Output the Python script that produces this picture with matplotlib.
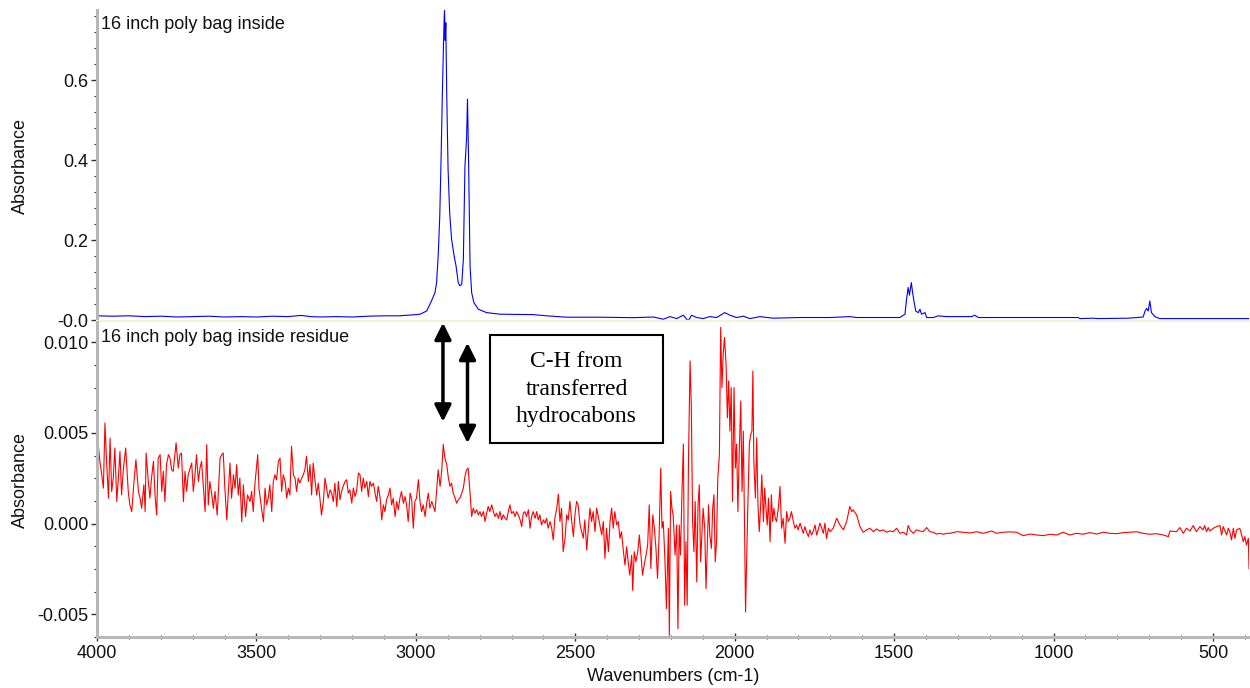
import numpy as np
import matplotlib
matplotlib.use("Agg")
import matplotlib.pyplot as plt
from matplotlib.ticker import MultipleLocator, FixedLocator, FixedFormatter
from matplotlib.patches import Rectangle

plt.rcParams['font.family'] = ['Liberation Sans', 'DejaVu Sans']

# ---------------- data ----------------
top_title = "16 inch poly bag inside"
bottom_title = "16 inch poly bag inside residue"
x_label = "Wavenumbers (cm-1)"
y_label = "Absorbance"
note_text = "C-H from\ntransferred\nhydrocabons"

top_yticks = [0.0, 0.2, 0.4, 0.6]
top_ytick_labels = ["-0.0", "0.2", "0.4", "0.6"]
bot_yticks = [-0.005, 0.0, 0.005, 0.010]
bot_ytick_labels = ["-0.005", "0.000", "0.005", "0.010"]
x_ticks = [4000, 3500, 3000, 2500, 2000, 1500, 1000, 500]

# blue spectrum (top panel)
blue_wn = [4000, 3950, 3900, 3850, 3800, 3750, 3700, 3650, 3600, 3550, 3500, 3450,
           3400, 3360, 3330, 3300, 3250, 3200, 3150, 3100, 3050, 3000, 2987, 2966,
           2951, 2940, 2935, 2930, 2925, 2921, 2917, 2913, 2911, 2910, 2908, 2906, 2903,
           2899, 2894, 2888, 2880, 2874, 2867, 2862, 2856, 2851, 2846, 2841, 2838,
           2835, 2830, 2825, 2818, 2804, 2778, 2736, 2632, 2590, 2527, 2423, 2318,
           2255, 2224, 2203, 2182, 2161, 2146, 2135, 2119, 2099, 2078, 2057, 2031,
           2015, 1994, 1973, 1952, 1921, 1879, 1795, 1733, 1701, 1639, 1618, 1482,
           1466, 1461, 1456, 1452, 1446, 1442, 1437, 1432, 1424, 1419, 1414, 1403,
           1398, 1377, 1362, 1336, 1257, 1247, 1236, 923, 917, 876, 860, 766,
           719, 713, 708, 703, 698, 693, 682, 667, 384]
blue_abs = [0.011, 0.010, 0.011, 0.009, 0.010, 0.008, 0.009, 0.010, 0.008, 0.009, 0.008, 0.010,
            0.009, 0.012, 0.009, 0.008, 0.009, 0.008, 0.010, 0.011, 0.011, 0.014, 0.015, 0.023,
            0.048, 0.069, 0.094, 0.160, 0.260, 0.400, 0.560, 0.700, 0.760, 0.775, 0.700, 0.744, 0.560,
            0.380, 0.270, 0.203, 0.161, 0.136, 0.094, 0.086, 0.090, 0.153, 0.386, 0.453, 0.553,
            0.419, 0.136, 0.069, 0.044, 0.0275, 0.019, 0.015, 0.014, 0.011, 0.0075, 0.0075, 0.0063,
            0.008, 0.0025, 0.009, 0.004, 0.0125, -0.002, 0.0125, 0.0067, 0.004, 0.009, 0.0067, 0.019,
            0.0125, 0.0067, 0.010, 0.004, 0.009, 0.005, 0.0067, 0.0067, 0.0067, 0.009, 0.0067, 0.0067,
            0.015, 0.0525, 0.082, 0.0625, 0.094, 0.069, 0.044, 0.0225, 0.019, 0.0275, 0.015, 0.019,
            0.0067, 0.0067, 0.0108, 0.009, 0.009, 0.0125, 0.0067, 0.0067, 0.004, 0.005, 0.004, 0.005,
            0.008, 0.023, 0.0295, 0.023, 0.048, 0.019, 0.009, 0.004, 0.004]

# red spectrum (bottom panel), absorbance in units of 1e-3
red_wn = [
    3996, 3991, 3985, 3980, 3975, 3970, 3964, 3959, 3954, 3949, 3944, 3938, 3933, 3928, 3923, 3917,
    3910, 3902, 3897, 3891, 3884, 3878, 3870, 3865, 3860, 3853, 3849, 3846, 3839, 3834, 3829, 3823,
    3818, 3813, 3808, 3802, 3797, 3792, 3787, 3782, 3776, 3771, 3766, 3761, 3752, 3745, 3740, 3735,
    3729, 3724, 3719, 3714, 3703, 3698, 3693, 3688, 3682, 3677, 3672, 3661, 3656, 3651, 3646, 3640,
    3635, 3630, 3623, 3614, 3609, 3604, 3599, 3593, 3588, 3583, 3578, 3572, 3567, 3562, 3557, 3552,
    3546, 3541, 3534, 3528, 3520, 3515, 3510, 3505, 3496, 3492, 3484, 3478, 3473, 3468, 3463, 3458,
    3452, 3447, 3442, 3437, 3431, 3426, 3421, 3416, 3410, 3405, 3400, 3395, 3390, 3384, 3379, 3374,
    3369, 3364, 3358, 3353, 3348, 3343, 3337, 3332, 3327, 3322, 3317, 3311, 3306, 3301, 3296, 3290,
    3285, 3280, 3275, 3269, 3264, 3259,
    3254, 3248, 3243, 3238, 3233, 3228, 3222, 3217, 3212, 3207, 3201, 3196, 3191, 3186, 3180, 3175,
    3170, 3165, 3160, 3154, 3149, 3144, 3139, 3133, 3128, 3123, 3118, 3112, 3107, 3102, 3097, 3092,
    3086, 3081, 3076, 3071, 3065, 3060, 3055, 3050, 3045, 3039, 3034, 3029, 3024, 3018, 3013, 3008,
    3003, 2998, 2992, 2987, 2982, 2977, 2971, 2966, 2961, 2956, 2950, 2945, 2940, 2935, 2930, 2924,
    2919, 2914, 2909, 2903, 2898, 2893, 2888, 2883, 2877, 2872, 2867, 2862, 2856, 2851, 2846, 2841,
    2836, 2830, 2825, 2820, 2815, 2809, 2804, 2799, 2794, 2788, 2783, 2778, 2773, 2768, 2762, 2757,
    2752, 2747, 2741, 2736, 2731, 2726, 2720, 2715, 2710, 2705, 2700, 2694, 2689, 2684, 2679, 2673,
    2668, 2663, 2658, 2653, 2647, 2642, 2637, 2632, 2626, 2621, 2616, 2611, 2606, 2600, 2595, 2590,
    2585, 2579, 2574, 2569, 2564, 2558, 2553, 2548, 2543, 2538, 2532, 2527, 2522, 2517, 2511, 2506,
    2501, 2496, 2491, 2485, 2480, 2475, 2470, 2464, 2459, 2454, 2449, 2444, 2438, 2433, 2428,
    2417, 2412, 2407, 2402, 2396, 2391, 2386, 2381, 2376, 2370, 2365, 2360, 2355, 2349, 2344, 2339,
    2334, 2329, 2323, 2320, 2315, 2310, 2304, 2299, 2294, 2289, 2284, 2278, 2273, 2268, 2263, 2257,
    2252, 2247, 2242, 2237, 2232, 2228, 2224, 2219, 2214, 2208, 2205, 2201, 2197, 2193, 2187, 2182,
    2178, 2174, 2170, 2165, 2161, 2157, 2153, 2149, 2145, 2140, 2136, 2132, 2128, 2124, 2119, 2115,
    2111, 2107, 2103, 2099, 2094, 2090, 2086, 2082, 2078, 2073, 2069, 2065, 2061, 2057, 2053, 2048,
    2044, 2040, 2036, 2032, 2027, 2023, 2019, 2015, 2011, 2007, 2002, 1998, 1994, 1990, 1986, 1981,
    1977, 1973, 1969, 1966, 1963, 1959, 1954, 1950, 1946, 1943, 1940, 1935, 1931, 1927, 1923, 1919,
    1915, 1910, 1906, 1902, 1898, 1894, 1889, 1885, 1881, 1877, 1873, 1869, 1863, 1858, 1853, 1848,
    1842, 1837, 1832, 1827, 1822, 1816, 1811, 1806, 1801, 1795, 1790, 1785, 1780, 1775, 1769, 1764,
    1759, 1754, 1748, 1743, 1738, 1733, 1727, 1722, 1717, 1712, 1706,
    1701, 1691, 1680, 1670, 1659, 1649, 1639, 1633, 1628, 1618, 1607, 1597, 1586, 1576, 1565, 1555,
    1545, 1534, 1524, 1513, 1503, 1492, 1482, 1471, 1461, 1456, 1450, 1440, 1430, 1419, 1409, 1398,
    1388, 1377, 1367, 1356, 1346, 1335,
    1325, 1304, 1283, 1262, 1241, 1220, 1194, 1179, 1158, 1137, 1116, 1095, 1074, 1053, 1032, 1011,
    990, 970, 949, 928, 907, 886, 865, 844, 823, 802, 781, 761, 740, 719, 698, 677,
    656, 640, 635, 614, 604, 593, 583, 572, 562, 552, 541, 531, 526, 520, 515, 510,
    499, 489, 478, 473, 468, 457, 452, 447, 442, 436, 431, 426, 416, 410, 405, 400,
    395, 389, 387]
red_abs_milli = [
    4.35, 3.43, 2.69, 1.95, 5.55, 3.43, 1.40, 4.72, 1.77, 2.51, 4.17, 1.21, 2.51, 3.98, 1.58, 3.06,
    4.17, 1.77, 1.03, 0.66, 2.32, 3.52, 1.77, 1.40, 0.84, 2.14, 0.66, 3.89, 2.32, 1.40, 2.51, 3.43,
    1.58, 0.47, 3.61, 3.80, 1.77, 2.88, 1.21, 3.25, 3.80, 3.61, 2.97, 2.88, 4.45, 3.06, 3.80, 3.89,
    1.21, 2.88, 1.77, 2.69, 3.34, 1.77, 2.60, 3.80, 2.32, 3.06, 3.43, 0.66, 4.35, 1.03, 2.32, 1.58,
    0.84, 1.77, 0.47, 3.61, 3.80, 3.89, 1.95, 0.20, 1.77, 3.34, 1.40, 2.69, 1.95, 3.25, 1.58, 2.51,
    0.10, 2.14, 0.38, 1.58, 1.21, 1.77, 0.66, 2.14, 3.80, 1.95, 0.84, 0.10, 1.95, 1.03, 1.40, 2.14,
    0.66, 2.32, 2.69, 2.41, 3.43, 3.61, 1.77, 2.69, 2.32, 1.40, 1.95, 1.58, 4.26, 2.69, 2.51, 1.77,
    2.51, 2.23, 2.51, 2.69, 2.97, 3.71, 2.32, 3.25, 1.58, 3.34, 2.51, 1.58, 2.23, 1.40, 0.47, 1.21,
    2.51, 1.95, 1.40, 1.86, 1.67, 1.21,
    2.23, 0.94, 2.33, 1.31, 1.77, 2.05, 2.33, 2.42, 1.68, 1.86, 1.12, 1.96, 1.49, 1.77, 2.79, 2.69,
    1.77, 2.51, 1.96, 2.33, 1.49, 2.33, 2.05, 2.23, 1.68, 1.22, 2.05, 1.40, 0.20, 1.03, 0.66, 1.31,
    1.59, 1.96, 1.03, 1.40, 0.39, 1.22, 0.76, 1.40, 1.77, 1.12, 1.49, 1.03, 0.11, 1.68, 1.31, -0.26,
    1.22, 1.40, 2.42, 1.22, 0.66, 1.03, 0.39, 1.12, 1.68, 0.85, 1.22, 0.94, 0.66, 1.77, 2.97, 2.05,
    2.88, 4.36, 3.62, 3.25, 2.51, 2.05, 2.23, 1.68, 1.40, 1.12, 1.31, 1.40, 1.68, 1.96, 2.60, 2.97,
    3.06, 1.68, 0.39, 0.85, 0.57, 0.76, 0.48, 0.66, 0.39, 0.66, 0.11, 0.57, 0.94, 0.66, 1.03, 0.66,
    0.39, 0.57, 0.29, 0.66, 0.20, 0.48, 0.29, 0.20, 0.66, 1.03, 0.57, 0.66, 0.39, 0.66, 0.48, 0.20,
    -0.17, 0.57, 0.66, 0.39, 0.76, -0.26, 0.39, 0.66, 0.29, 0.66, 0.20, 0.48, -0.08, 0.20, 0.02, 0.29,
    -0.26, 0.11, -0.26, -0.91, 0.29, 0.85, 1.62, 0.11, 0.85, -1.55, -0.81, 0.48, 0.20, 1.22, 0.11, -0.72,
    0.48, 1.22, 1.03, -0.08, -0.44, -0.81, 0.20, -1.46, -0.26, 0.85, 0.11, 0.66, -0.44, 0.85, 0.39,
    -0.63, 0.11, -1.92, -0.26, -1.55, 0.11, 0.85, -0.26, 0.66, -0.08, 0.11, -0.82, -0.45, -1.55, -2.29, -1.28,
    -2.11, -2.85, -1.74, -3.68, -1.55, -2.11, -1.55, -0.63, -1.74, -2.85, -2.29, -1.74, -1.18, 1.03, -2.48, 0.48,
    -0.26, -1.37, -3.03, -0.63, 3.06, -0.26, 0.11, -1.92, -4.69, -0.26, -6.17, 1.77, 0.85, 0.48, -1.74, -0.08,
    -5.80, -0.08, -1.74, 1.96, 4.39, -4.51, -1.00, -4.51, 3.43, 8.97, 6.39, 0.11, -1.55, 1.22, -3.22, 1.03,
    2.14, -2.11, -0.63, 0.85, -0.26, -3.59, -1.18, 1.03, -0.63, -1.37, 0.85, 1.59, -2.11, -1.00, 2.51, 3.80,
    10.82, 7.50, 9.34, 10.27, 8.79, 5.83, 7.87, 5.10, 7.50, 1.22, 7.50, 3.06, 4.39, 0.66, 3.80, 6.76,
    1.77, 5.10, -0.26, -4.88, -2.48, 0.85, 4.39, 4.91, 5.10, 8.42, 3.43, 1.40, 4.73, 1.03, -0.45, 0.85,
    2.69, 0.11, 1.96, 0.85, -0.08, 1.40, -1.00, 1.59, 0.11, 0.85, 0.29, 0.11, 0.85, 2.05, -0.26, 0.29,
    -1.09, 0.66, 0.11, 0.29, 0.66, 0.11, -0.26, -0.08, -0.35, 0.02, -0.26, -0.54, -0.17, -0.45, -0.72, -0.35,
    -0.63, -0.45, -0.08, -0.63, -0.35, 0.02, -0.26, -0.54, 0.02, -0.82, -0.26,
    -0.45, -0.26, 0.29, -0.08, -0.35, 0.11, 0.94, 0.66, 0.75, 0.48, -0.17, -0.48, -0.35, -0.26, -0.45, -0.30,
    -0.41, -0.35, -0.48, -0.41, -0.45, -0.26, -0.54, -0.48, -0.63, -0.11, -0.35, -0.54, -0.35, -0.41, -0.45, -0.22,
    -0.45, -0.48, -0.58, -0.54, -0.59, -0.54,
    -0.54, -0.45, -0.48, -0.52, -0.45, -0.54, -0.41, -0.54, -0.48, -0.46, -0.48, -0.67, -0.58, -0.63, -0.67, -0.59,
    -0.63, -0.48, -0.63, -0.54, -0.59, -0.50, -0.58, -0.48, -0.54, -0.56, -0.50, -0.48, -0.45, -0.54, -0.59, -0.56,
    -0.63, -0.72, -0.41, -0.45, -0.22, -0.54, -0.26, -0.41, -0.11, -0.45, -0.17, -0.35, -0.11, -0.45, -0.22, -0.41,
    -0.26, -0.17, -0.11, -0.63, -0.17, -0.63, -0.26, -0.45, -0.91, -0.26, -0.82, -0.35, -0.26, -0.63, -1.00, -0.72,
    -1.18, -0.82, -2.48]

# ---------------- figure ----------------
W, H = 1250, 688
fig = plt.figure(figsize=(W / 100, H / 100), dpi=100)
fig.patch.set_facecolor('white')

left = 97 / W
width = 1152 / W
ax1 = fig.add_axes([left, 1 - 321 / H, width, 311 / H])
ax2 = fig.add_axes([left, 1 - 637 / H, width, 315 / H], sharex=ax1)

ax1.plot(blue_wn, blue_abs, color='#0000ff', lw=0.8)
ax2.plot(red_wn, np.array(red_abs_milli) * 1e-3, color='#ff0000', lw=0.8)

ax1.set_xlim(4000, 387)
ax1.set_ylim(-0.002, 0.776)
ax2.set_ylim(-0.00626, 0.01112)

spine_col = '#b8b8b8'
tick_col = '#333333'
for ax in (ax1, ax2):
    ax.spines['top'].set_visible(False)
    ax.spines['right'].set_visible(False)
    ax.spines['left'].set_color(spine_col)
    ax.spines['left'].set_linewidth(2.2)
    ax.tick_params(axis='y', which='major', direction='out', length=4, width=1,
                   color=tick_col, labelsize=13, labelcolor='#111111', pad=2)
    ax.tick_params(axis='y', which='minor', direction='out', length=2.5, width=0.8,
                   color=tick_col)
    ax.set_ylabel(y_label, fontsize=13, color='#111111')
    ax.yaxis.set_label_coords(-0.059, 0.5)

ax1.spines['bottom'].set_color('#fbefdc')
ax1.spines['bottom'].set_linewidth(1.5)
ax1.tick_params(axis='x', which='both', bottom=False, labelbottom=False)

ax2.spines['bottom'].set_color(spine_col)
ax2.spines['bottom'].set_linewidth(2.2)

ax1.yaxis.set_major_locator(FixedLocator(top_yticks))
ax1.yaxis.set_major_formatter(FixedFormatter(top_ytick_labels))
ax1.yaxis.set_minor_locator(MultipleLocator(0.04))

ax2.yaxis.set_major_locator(FixedLocator(bot_yticks))
ax2.yaxis.set_major_formatter(FixedFormatter(bot_ytick_labels))
ax2.yaxis.set_minor_locator(MultipleLocator(0.00125))

ax2.xaxis.set_major_locator(FixedLocator(x_ticks))
ax2.xaxis.set_major_formatter(FixedFormatter([str(t) for t in x_ticks]))
ax2.xaxis.set_minor_locator(MultipleLocator(100))
ax2.tick_params(axis='x', which='major', direction='inout', length=6, width=1,
                color=tick_col, labelsize=13, labelcolor='#111111', pad=3)
ax2.tick_params(axis='x', which='minor', direction='inout', length=3.5, width=0.8,
                color=tick_col)
ax2.set_xlabel(x_label, fontsize=13, color='#111111', labelpad=4)

ax1.text(0.0035, 0.98, top_title, transform=ax1.transAxes, ha='left', va='top',
         fontsize=13, color='#111111')
ax2.text(0.0035, 0.978, bottom_title, transform=ax2.transAxes, ha='left', va='top',
         fontsize=13, color='#111111')

# annotation: double-headed arrows and boxed note
arrow_kw = dict(arrowstyle='<|-|>', lw=2.5, color='black', mutation_scale=25,
                shrinkA=0, shrinkB=0)
ax2.annotate('', xy=(2915, 0.00562), xytext=(2915, 0.01108),
             arrowprops=arrow_kw, annotation_clip=False)
ax2.annotate('', xy=(2838, 0.00444), xytext=(2838, 0.00997),
             arrowprops=arrow_kw, annotation_clip=False)

ax2.add_patch(Rectangle((2767, 0.00444), 2225 - 2767, 0.01041 - 0.00444,
                        fill=True, facecolor='white', edgecolor='black', lw=1.5,
                        zorder=5))
ax2.text(2496, 0.00742, note_text, ha='center', va='center', fontsize=17,
         family=['Liberation Serif', 'DejaVu Serif'], linespacing=1.38, zorder=6)

fig.savefig('out.png', dpi=100)
